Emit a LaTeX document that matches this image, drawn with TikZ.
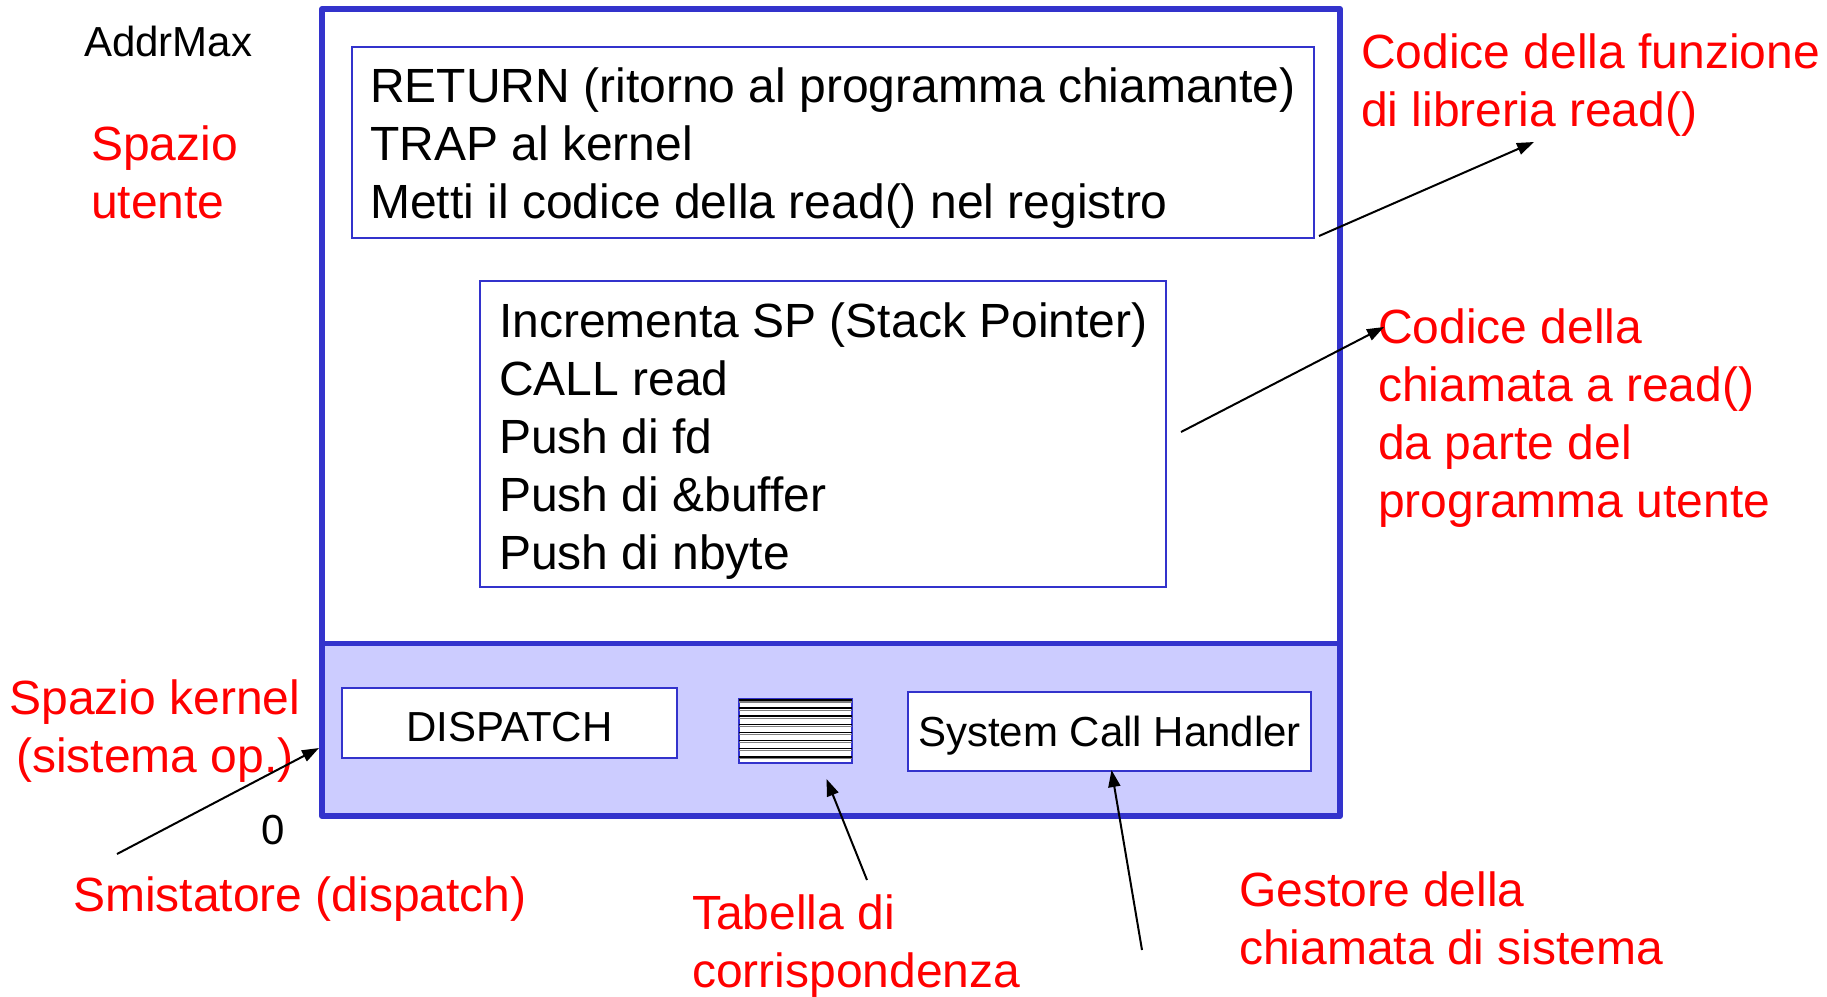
\documentclass[tikz,border=0pt]{standalone}
\usepackage{fontspec}
\setmainfont{Liberation Sans}
\usetikzlibrary{arrows.meta}
\usetikzlibrary{calc}
\usetikzlibrary{positioning}
\definecolor{memblue}{HTML}{3333CC}
\definecolor{kernfill}{HTML}{CCCCFF}
\definecolor{labred}{HTML}{FF0000}

\begin{document}
\begin{tikzpicture}[x=1pt, y=-1pt,
        codebox/.style={rectangle, draw=memblue, line width=2pt, fill=white},
        codetext/.style={anchor=west, inner sep=0pt, align=left, font=\fontsize{48}{58}\selectfont},
        smallbox/.style={rectangle, draw=memblue, line width=2pt, fill=white, font=\fontsize{42}{50}\selectfont},
        redlabel/.style={text=labred, align=left, anchor=west, inner sep=0pt, font=\fontsize{48}{58}\selectfont},
        blacklabel/.style={inner sep=0pt, font=\fontsize{42}{50}\selectfont},
        pointer/.style={-{Triangle[length=17pt, width=12pt]}, line width=2pt}]
        \useasboundingbox (0,0) rectangle (1827,996);
        % memoria
        \fill[kernfill] (322,643) rectangle (1340,816);
        \draw[memblue, line width=6pt, line join=round] (322,9) rectangle (1340,816);
        \draw[memblue, line width=5pt] (322,643) -- (1340,643);

        \node[codebox, minimum width=962pt, minimum height=191pt] (lib) at (833,142.5) {};
        \node[codetext] (libtext) at ($(lib.west)+(19,6)$)
            {RETURN (ritorno al programma chiamante)\\TRAP al kernel\\Metti il codice della read() nel registro};
        \node[codebox, minimum width=686pt, minimum height=306pt] (call) at (823,434) {};
        \node[codetext] (calltext) at ($(call.west)+(20,7)$)
            {Incrementa SP (Stack Pointer)\\CALL read\\Push di fd\\Push di \&buffer\\Push di nbyte};

        \node[smallbox, minimum width=335pt, minimum height=70pt, text height=37pt] (disp) at (509.5,723) {DISPATCH};
        \node[smallbox, minimum width=403pt, minimum height=79pt, text height=39pt] (sch) at (1109.5,731.5) {System Call Handler};
        \node[smallbox, minimum width=113pt, minimum height=64pt] (tab) at (795.5,731) {};
        \foreach \k in {0,...,7}
        {
            \draw[black, line width=1.6pt] ($(tab.north west)+(1,2+8.1*\k)$) -- ($(tab.north east)+(-1,2+8.1*\k)$);
            \draw[gray, line width=1.2pt] ($(tab.north west)+(1,4+8.1*\k)$) -- ($(tab.north east)+(-1,4+8.1*\k)$);
        }

        % etichette
        \node[blacklabel, anchor=west] (addr) at (84,41) {AddrMax};
        \node[blacklabel] (zero) at (273,830) {0};
        \node[redlabel] (utente) at (91,172) {Spazio\\utente};
        \node[redlabel, align=center, anchor=center] (kernel) at (155,731) {Spazio kernel\\(sistema op.)};
        \node[redlabel] (smist) at (73,899) {Smistatore (dispatch)};
        \node[redlabel] (tabella) at (692,946) {Tabella di\\corrispondenza};
        \node[redlabel] (gestore) at (1239,918) {Gestore della\\chiamata di sistema};
        \node[redlabel] (codlib) at (1361,85) {Codice della funzione\\di libreria read()};
        \node[redlabel] (codcall) at (1378,418) {Codice della\\chiamata a read()\\da parte del\\programma utente};

        % frecce
        \coordinate (libtip) at (1534,142);
        \coordinate (calltip) at (1384,327);
        \coordinate (disptail) at (117,854);
        \coordinate (kernedge) at (319,748);
        \coordinate (tabtail) at (867,880);
        \coordinate (schtail) at (1142,950);
        \draw[pointer] ($(lib.south east)+(4,-3)$) -- (libtip);
        \draw[pointer] ($(call.east)+(14,-2)$) -- (calltip);
        \draw[pointer] (disptail) -- (kernedge);
        \draw[pointer] (tabtail) -- ($(tab.south)+(31,15)$);
        \draw[pointer] (schtail) -- ($(sch.south)+(2,-2)$);
    \end{tikzpicture}
\end{document}
